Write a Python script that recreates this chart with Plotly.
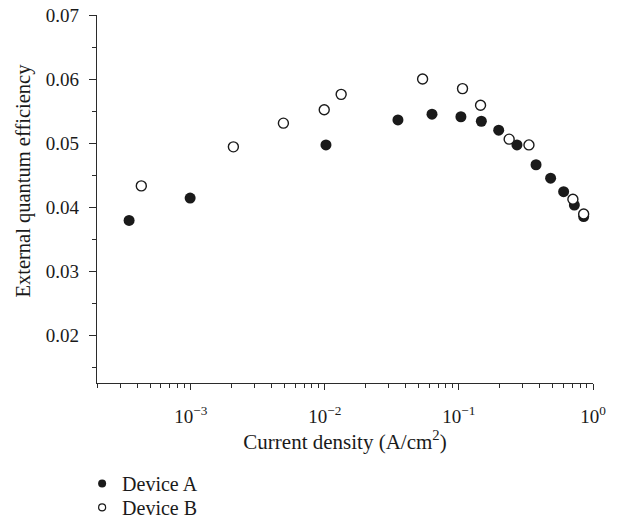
import plotly.graph_objects as go

# Current density (A/cm^2) and external quantum efficiency for each device
device_a_j = [3.47e-4, 9.9e-4, 0.0102, 0.0351, 0.0630, 0.1035, 0.147, 0.198,
              0.271, 0.376, 0.483, 0.604, 0.726, 0.852]
device_a_eqe = [0.0379, 0.0414, 0.0497, 0.0536, 0.0545, 0.0541, 0.0534, 0.0520,
                0.0497, 0.0466, 0.0445, 0.0424, 0.0403, 0.0385]

device_b_j = [4.28e-4, 2.08e-3, 4.91e-3, 9.9e-3, 0.01324, 0.0536, 0.1064, 0.145,
              0.237, 0.333, 0.708, 0.852]
device_b_eqe = [0.0433, 0.0494, 0.0531, 0.0552, 0.0576, 0.0600, 0.0585, 0.0559,
                0.0506, 0.0497, 0.0412, 0.0389]

x_tickvals = [1e-3, 1e-2, 1e-1, 1]
x_ticktext = ["10<sup>−3</sup>", "10<sup>−2</sup>", "10<sup>−1</sup>", "10<sup>0</sup>"]
series_names = ["Device A", "Device B"]

FONT = "Liberation Serif"
INK = "#1a1a1a"
AXIS = "#2b2b2b"

fig = go.Figure()

fig.add_trace(go.Scatter(
    x=device_a_j, y=device_a_eqe, mode="markers", showlegend=False,
    marker=dict(symbol="circle", size=11, color=INK, line=dict(width=0)),
))
fig.add_trace(go.Scatter(
    x=device_b_j, y=device_b_eqe, mode="markers", showlegend=False,
    marker=dict(symbol="circle", size=10, color="white",
                line=dict(width=1.4, color=INK)),
))

# legend entries use a smaller symbol than the plotted points;
# each sits in its own legend box so the rows can be packed tightly
fig.add_trace(go.Scatter(
    x=[None], y=[None], mode="markers", name=series_names[0], legend="legend",
    marker=dict(symbol="circle", size=8, color=INK, line=dict(width=0)),
))
fig.add_trace(go.Scatter(
    x=[None], y=[None], mode="markers", name=series_names[1], legend="legend2",
    marker=dict(symbol="circle", size=7, color="white",
                line=dict(width=1.2, color=INK)),
))

legend_style = dict(
    x=-0.03, xanchor="left", yanchor="top",
    font=dict(family=FONT, size=20, color=INK),
    bgcolor="rgba(0,0,0,0)", borderwidth=0, itemwidth=30,
)

fig.update_layout(
    width=617, height=524,
    margin=dict(l=97, r=24, t=15, b=141, autoexpand=False),
    paper_bgcolor="white", plot_bgcolor="white",
    font=dict(family=FONT, size=19, color=INK),
    showlegend=True,
    legend=dict(y=-0.2198, **legend_style),
    legend2=dict(y=-0.285, **legend_style),
    xaxis=dict(
        type="log", range=[-3.699, 0],
        tickmode="array", tickvals=x_tickvals, ticktext=x_ticktext,
        ticks="outside", ticklen=6, tickwidth=1.3, tickcolor=AXIS,
        minor=dict(dtick="D1", ticks="outside", ticklen=3.5,
                   tickwidth=1.2, tickcolor=AXIS, showgrid=False),
        showline=True, linecolor=AXIS, linewidth=1.4,
        showgrid=False, zeroline=False, automargin=False,
        ticklabelstandoff=10,
        tickfont=dict(family=FONT, size=19, color=INK),
        title=dict(text="Current density (A/cm<sup>2</sup>)",
                   font=dict(family=FONT, size=21, color=INK), standoff=8),
    ),
    yaxis=dict(
        range=[0.0125, 0.07],
        tickmode="linear", tick0=0.02, dtick=0.01, tickformat=".2f",
        ticks="outside", ticklen=7, tickwidth=1.3, tickcolor=AXIS,
        minor=dict(tickmode="linear", tick0=0.015, dtick=0.01,
                   ticks="outside", ticklen=3.5, tickwidth=1.2,
                   tickcolor=AXIS, showgrid=False),
        showline=True, linecolor=AXIS, linewidth=1.4,
        showgrid=False, zeroline=False, automargin=False,
        ticklabelstandoff=6,
        tickfont=dict(family=FONT, size=19, color=INK),
    ),
    # unlabeled frame axes along the top and right edges
    xaxis2=dict(
        overlaying="x", side="top", range=[0, 10],
        tickmode="linear", tick0=0, dtick=1,
        ticks="inside", ticklen=2, tickwidth=1, tickcolor="#888888",
        showticklabels=False, showline=True, linecolor=AXIS, linewidth=1.4,
        showgrid=False, zeroline=False,
    ),
    yaxis2=dict(
        overlaying="y", side="right", range=[0, 10],
        tickmode="linear", tick0=0, dtick=1,
        ticks="inside", ticklen=3, tickwidth=1.3, tickcolor=AXIS,
        showticklabels=False, showline=True, linecolor=AXIS, linewidth=1.4,
        showgrid=False, zeroline=False,
    ),
    annotations=[dict(
        text="External quantum efficiency",
        xref="paper", yref="paper", x=-0.148, y=0.549,
        xanchor="center", yanchor="middle", textangle=-90, showarrow=False,
        font=dict(family=FONT, size=20.5, color=INK),
    )],
)

fig.write_html("out.html")
